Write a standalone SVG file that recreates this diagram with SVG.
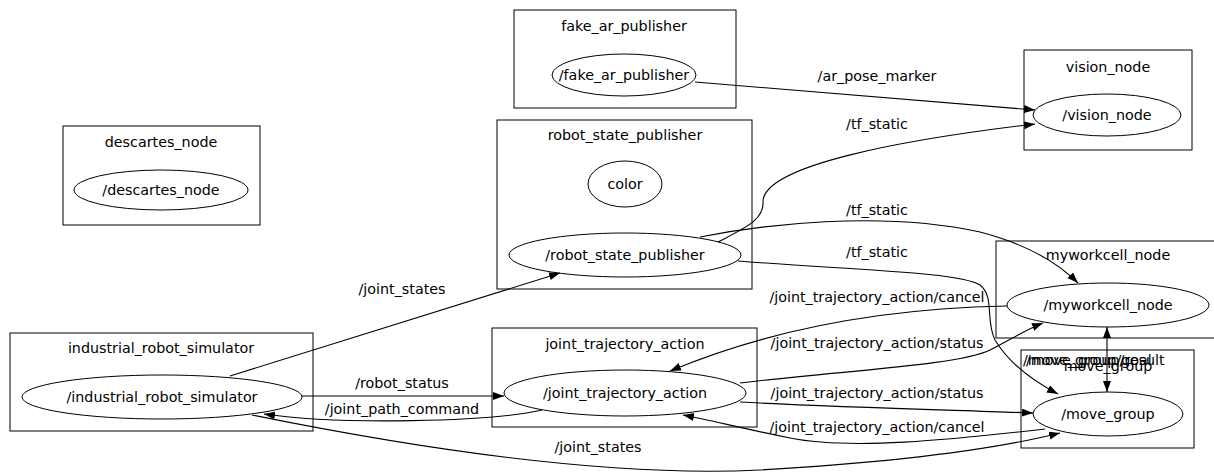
<svg xmlns="http://www.w3.org/2000/svg" width="1214" height="473" viewBox="0 0 1214 473">
<style>
text{font-family:"DejaVu Sans","Liberation Sans",sans-serif;font-size:14.3px;fill:#000;text-anchor:middle}
.cl{fill:none;stroke:#000;stroke-width:1}
.nd{fill:#fff;stroke:#000;stroke-width:1}
.ed{fill:none;stroke:#000;stroke-width:1.1;marker-end:url(#ah)}
.lft{text-anchor:start}
</style>
<defs>
<marker id="ah" markerUnits="userSpaceOnUse" markerWidth="12" markerHeight="9" refX="11" refY="4" orient="auto-start-reverse">
<path d="M0,0 L11,4 L0,8 z" fill="#000"/>
</marker>
</defs>
<rect width="1214" height="473" fill="#fff"/>
<g id="descartes_node">
<rect class="cl" x="63" y="126" width="197" height="99"/>
<text x="161" y="147">descartes_node</text>
<ellipse class="nd" cx="161" cy="190" rx="87" ry="20"/>
<text x="161" y="195">/descartes_node</text>
</g>
<g id="fake_ar_publisher">
<rect class="cl" x="514" y="10" width="222" height="98"/>
<text x="624" y="31">fake_ar_publisher</text>
<ellipse class="nd" cx="624" cy="75" rx="72" ry="21"/>
<text x="624" y="80">/fake_ar_publisher</text>
</g>
<g id="vision_node">
<rect class="cl" x="1024" y="50" width="168" height="100"/>
<text x="1108" y="72">vision_node</text>
<ellipse class="nd" cx="1107" cy="115" rx="74" ry="21"/>
<text x="1107" y="120">/vision_node</text>
</g>
<g id="robot_state_publisher">
<rect class="cl" x="497" y="120" width="255" height="169"/>
<text x="625" y="140">robot_state_publisher</text>
<ellipse class="nd" cx="625" cy="184" rx="37" ry="23"/>
<text x="625" y="189">color</text>
<ellipse class="nd" cx="625" cy="255" rx="116" ry="22"/>
<text x="625" y="260">/robot_state_publisher</text>
</g>
<g id="myworkcell_node">
<rect class="cl" x="996" y="241" width="224" height="97"/>
<text x="1108" y="260">myworkcell_node</text>
<ellipse class="nd" cx="1108" cy="305" rx="101" ry="22"/>
<text x="1108" y="310">/myworkcell_node</text>
</g>
<g id="move_group">
<rect class="cl" x="1021" y="350" width="173" height="98"/>
<text x="1108" y="371">move_group</text>
<ellipse class="nd" cx="1108" cy="414" rx="75" ry="22"/>
<text x="1108" y="419">/move_group</text>
</g>
<g id="joint_trajectory_action">
<rect class="cl" x="492" y="328" width="265" height="99"/>
<text x="625" y="349">joint_trajectory_action</text>
<ellipse class="nd" cx="625" cy="393" rx="121" ry="23"/>
<text x="625" y="398">/joint_trajectory_action</text>
</g>
<g id="industrial_robot_simulator">
<rect class="cl" x="10" y="333" width="303" height="98"/>
<text x="161" y="353">industrial_robot_simulator</text>
<ellipse class="nd" cx="162" cy="397" rx="140" ry="22"/>
<text x="162" y="402">/industrial_robot_simulator</text>
</g>
<g id="connectors">
<path class="ed" d="M695,82 L1035,110"/>
<text x="877" y="81">/ar_pose_marker</text>
<path class="ed" d="M718,242 C745,228 765,220 763,200 C768,165 900,140 1035,124"/>
<text x="877" y="129">/tf_static</text>
<path class="ed" d="M700,237 C760,225 880,210 980,232 C1030,245 1060,265 1078,283"/>
<text x="877" y="215">/tf_static</text>
<path class="ed" d="M738,261 C850,270 960,272 980,285 C995,297 985,320 995,340 C1010,365 1035,382 1058,394"/>
<text x="877" y="257">/tf_static</text>
<path class="ed" d="M230,376 L560,273"/>
<text x="402" y="294">/joint_states</text>
<path class="ed" d="M302,396 L504,396"/>
<text x="402" y="388">/robot_status</text>
<path class="ed" d="M542,410 C490,422 340,425 264,414"/>
<text x="402" y="414">/joint_path_command</text>
<path class="ed" d="M1007,306 C900,308 780,325 670,371"/>
<text x="877" y="302">/joint_trajectory_action/cancel</text>
<path class="ed" d="M740,383 C850,370 960,365 990,350 C1010,340 1025,330 1043,323"/>
<text x="877" y="348">/joint_trajectory_action/status</text>
<path class="ed" d="M740,402 C830,407 950,410 1033,413"/>
<text x="877" y="398">/joint_trajectory_action/status</text>
<path class="ed" d="M1045,429 C950,440 850,450 790,438 C740,428 710,420 683,415"/>
<text x="877" y="432">/joint_trajectory_action/cancel</text>
<path class="ed" d="M1107,327 L1107,392" marker-start="url(#ah)"/>
<text class="lft" x="1023" y="365">/move_group/goal</text>
<text class="lft" x="1026" y="365">/move_group/result</text>
<path class="ed" d="M252,415 C400,445 600,478 760,470 C900,462 1000,448 1060,433"/>
<text x="598" y="452">/joint_states</text>
</g>
</svg>
